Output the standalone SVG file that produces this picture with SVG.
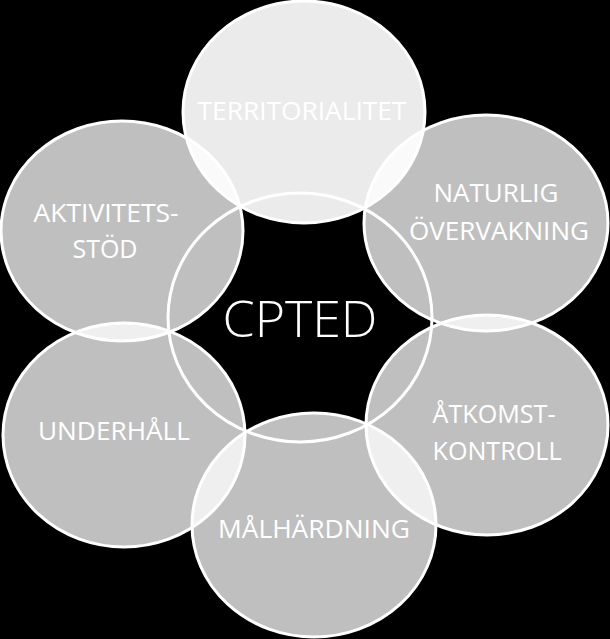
<svg xmlns="http://www.w3.org/2000/svg" width="610" height="639" viewBox="0 0 610 639">
<style>
.c{fill:#ffffff;fill-opacity:0.75;stroke:#ffffff;stroke-width:3}
.t{fill:#ffffff;fill-opacity:0.92;stroke:#ffffff;stroke-width:3}
.m{fill:none;stroke:#ffffff;stroke-width:3}
text{font-family:"Open Sans","Liberation Sans",sans-serif;fill:#ffffff;text-anchor:middle;font-size:26px}
.big{font-size:49px;font-weight:300}
</style>
<rect x="0" y="0" width="610" height="639" fill="#000000"/>
<g id="territorialitet">
<ellipse class="t" cx="304" cy="112" rx="121" ry="111"/>
<text x="302" y="120" textLength="209" lengthAdjust="spacingAndGlyphs">TERRITORIALITET</text>
</g>
<g id="aktivitetsstod">
<ellipse class="c" cx="122" cy="231" rx="121" ry="110"/>
<text x="106" y="222" textLength="145" lengthAdjust="spacingAndGlyphs">AKTIVITETS-</text>
<text x="105" y="258" textLength="65" lengthAdjust="spacingAndGlyphs">STÖD</text>
</g>
<g id="naturlig">
<ellipse class="c" cx="486" cy="223" rx="122" ry="108"/>
<text x="496" y="202" textLength="125" lengthAdjust="spacingAndGlyphs">NATURLIG</text>
<text x="499" y="240" textLength="180" lengthAdjust="spacingAndGlyphs">ÖVERVAKNING</text>
</g>
<g id="underhall">
<ellipse class="c" cx="124" cy="435" rx="121" ry="112"/>
<text x="114" y="440" textLength="152" lengthAdjust="spacingAndGlyphs">UNDERHÅLL</text>
</g>
<g id="atkomst">
<ellipse class="c" cx="487" cy="425" rx="121" ry="110"/>
<text x="494" y="423" textLength="123" lengthAdjust="spacingAndGlyphs">ÅTKOMST-</text>
<text x="497" y="460" textLength="129" lengthAdjust="spacingAndGlyphs">KONTROLL</text>
</g>
<g id="malhardning">
<ellipse class="c" cx="314" cy="525" rx="122" ry="112"/>
<text x="314" y="538" textLength="192" lengthAdjust="spacingAndGlyphs">MÅLHÄRDNING</text>
</g>
<g id="cpted">
<ellipse class="m" cx="300" cy="317.5" rx="132" ry="124.5"/>
<text class="big" x="300" y="337" textLength="155" lengthAdjust="spacingAndGlyphs">CPTED</text>
</g>
<g id="connectors"></g>
</svg>
